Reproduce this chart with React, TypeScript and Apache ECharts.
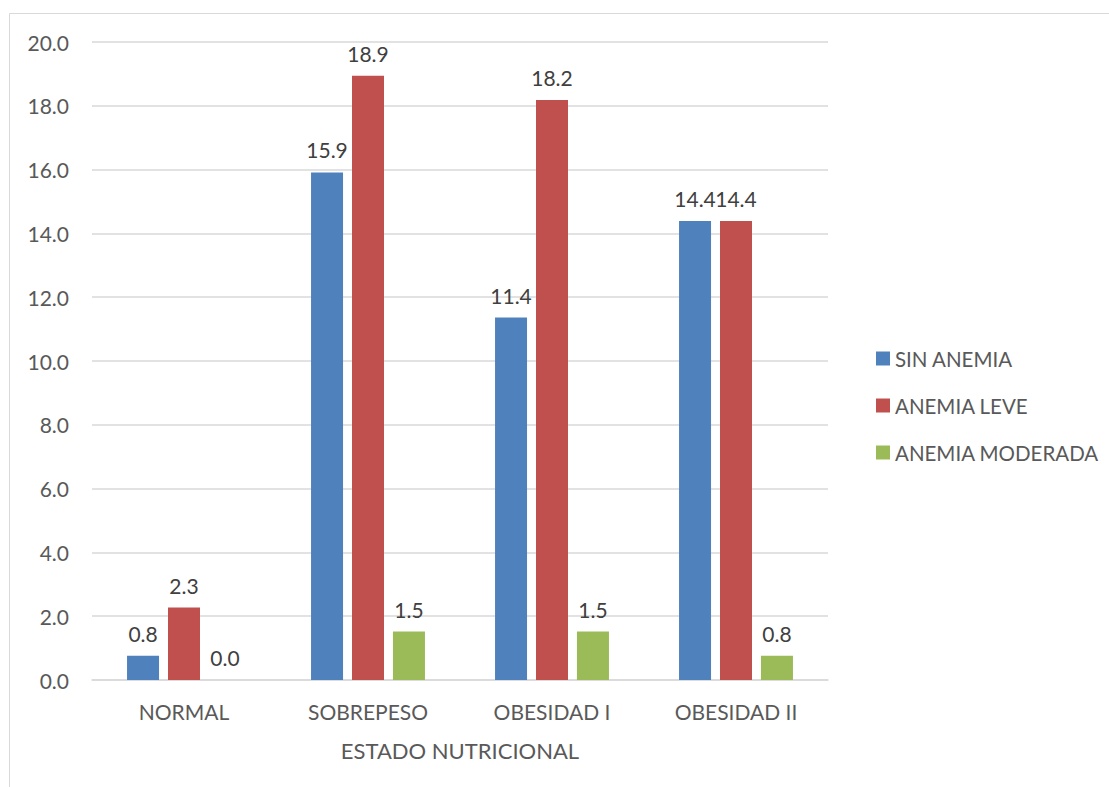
import React, { useEffect, useRef } from "react";
import * as echarts from "echarts";

const categories = ["NORMAL", "SOBREPESO", "OBESIDAD I", "OBESIDAD II"];
const sinAnemia = [0.76, 15.91, 11.36, 14.39];
const anemiaLeve = [2.27, 18.94, 18.18, 14.39];
const anemiaModerada = [0, 1.52, 1.52, 0.76];
const seriesNames = ["SIN ANEMIA", "ANEMIA LEVE", "ANEMIA MODERADA"];
const colors = ["#4F81BD", "#C0504D", "#9BBB59"];

const FONT = "Lato, 'Noto Sans', sans-serif";
const TXT = "#595959";

export default function App() {
  const ref = useRef<HTMLDivElement>(null);
  useEffect(() => {
    if (!ref.current) return;
    const chart = echarts.init(ref.current, undefined, { renderer: "svg" });
    const data = [sinAnemia, anemiaLeve, anemiaModerada];
    chart.setOption({
      animation: false,
      textStyle: { fontFamily: FONT },
      graphic: [
        {
          type: "rect",
          shape: { x: 9.5, y: 13.5, width: 1300, height: 1000 },
          style: { fill: "none", stroke: "#d9d9d9", lineWidth: 1 },
          silent: true,
        },
      ],
      grid: { left: 92, right: 281, top: 42, bottom: 107, containLabel: false },
      legend: {
        orient: "vertical",
        left: 871,
        top: 343,
        itemWidth: 14,
        itemHeight: 14,
        itemGap: 26,
        icon: "rect",
        textStyle: { fontSize: 20.5, color: TXT, fontFamily: FONT },
        data: seriesNames,
      },
      xAxis: {
        type: "category",
        data: categories,
        name: "ESTADO NUTRICIONAL",
        nameLocation: "middle",
        nameGap: 59,
        nameTextStyle: { fontSize: 22, color: TXT, fontFamily: FONT },
        axisLine: { lineStyle: { color: "#d9d9d9", width: 1.5 } },
        axisTick: { show: false },
        axisLabel: { fontSize: 21, color: TXT, margin: 21, fontFamily: FONT },
      },
      yAxis: {
        type: "value",
        min: 0,
        max: 20,
        interval: 2,
        axisLine: { show: false },
        axisTick: { show: false },
        splitLine: { lineStyle: { color: "#d9d9d9", width: 1.5 } },
        axisLabel: {
          fontSize: 21,
          color: TXT,
          margin: 23,
          fontFamily: FONT,
          formatter: (v: number) => v.toFixed(1),
        },
      },
      series: seriesNames.map((name, i) => ({
        name,
        type: "bar",
        data: data[i],
        barWidth: 32,
        barGap: "28%",
        itemStyle: { color: colors[i] },
        label: {
          show: true,
          position: "top",
          distance: 12,
          fontSize: 21,
          color: "#404040",
          fontFamily: FONT,
          formatter: (p: any) => Number(p.value).toFixed(1),
        },
      })),
    });
    return () => chart.dispose();
  }, []);
  return (
    <div
      ref={ref}
      style={{ position: "fixed", left: 0, top: 0, width: 1109, height: 787, background: "#fff" }}
    />
  );
}
